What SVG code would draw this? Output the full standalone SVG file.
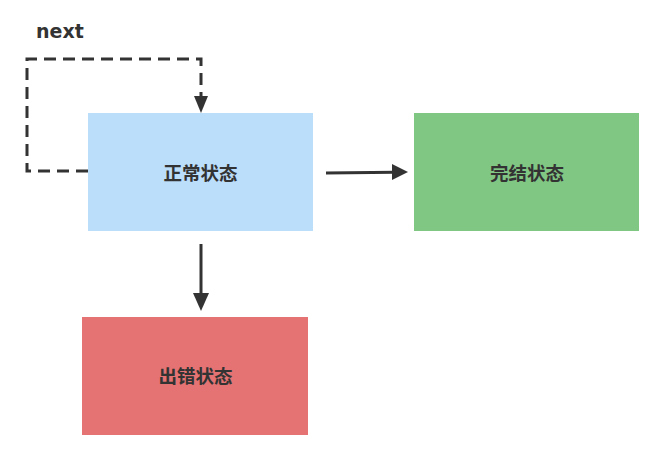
<svg xmlns="http://www.w3.org/2000/svg" width="663" height="456" viewBox="0 0 663 456">
<style>
.lbl{font-family:"Liberation Sans","Noto Sans CJK SC",sans-serif;font-size:18.5px;font-weight:bold;fill:#333;text-anchor:middle;dominant-baseline:central}
.edge{fill:none;stroke:#333;stroke-width:3}
.dash{stroke-dasharray:12 7}
</style>
<rect width="663" height="456" fill="#fff"/>
<g id="connectors">
<path class="edge dash" d="M88,171 H27 V59 H201 V100" />
<path d="M194,96 L201,113 L208,96 Z" fill="#333"/>
<path class="edge" d="M326,173 L395,172.2"/>
<path d="M392,164 L408,172 L392,180 Z" fill="#333"/>
<path class="edge" d="M201,244 V296"/>
<path d="M193,293 L201,311 L209,293 Z" fill="#333"/>
<text x="36" y="38" style="font-family:'DejaVu Sans',sans-serif;font-size:19px;font-weight:bold;fill:#333">next</text>
</g>
<g id="normal">
<rect x="88" y="113" width="225" height="118" fill="#bbdefb"/>
<text class="lbl" x="200.5" y="173.5">正常状态</text>
</g>
<g id="complete">
<rect x="414" y="113" width="225" height="118" fill="#81c784"/>
<text class="lbl" x="527" y="173.5">完结状态</text>
</g>
<g id="error">
<rect x="82" y="317" width="226" height="118" fill="#e57373"/>
<text class="lbl" x="195.5" y="376.5">出错状态</text>
</g>
</svg>
